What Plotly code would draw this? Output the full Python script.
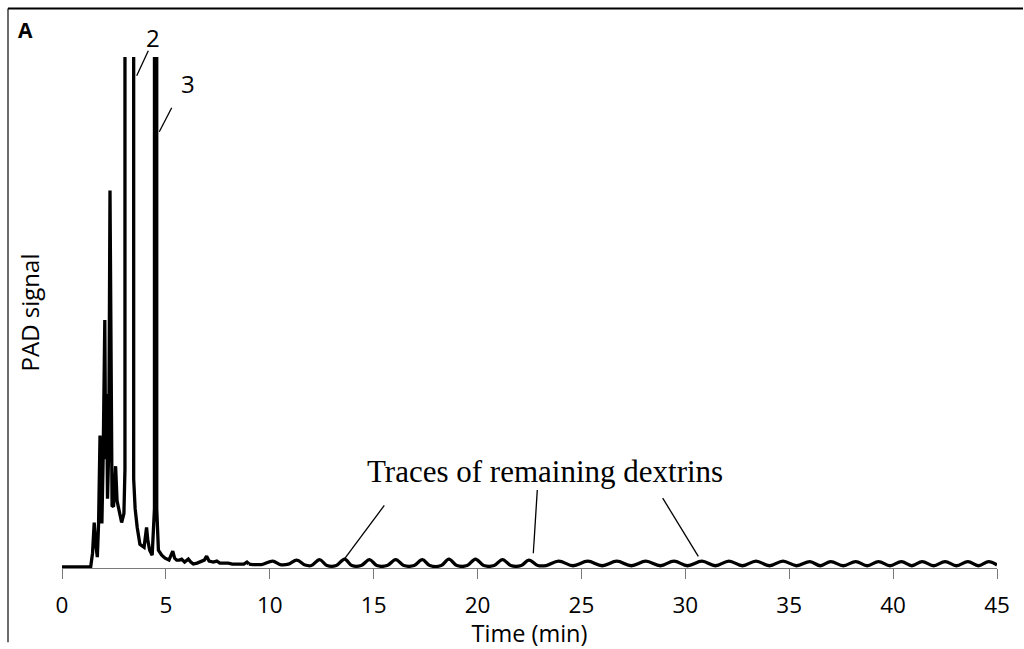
import plotly.graph_objects as go

# ---- data (time in min, signal in arbitrary units) ----
t_early = [0.0, 1.38, 1.47, 1.55, 1.62, 1.70, 1.76, 1.83, 1.87, 1.92, 1.98, 2.06, 2.10, 2.15, 2.19,
           2.25, 2.31, 2.36, 2.41, 2.48, 2.58, 2.65, 2.72, 2.80, 2.87, 2.98, 3.03, 3.06, 3.42, 3.45,
           3.52, 3.62, 3.75, 3.95, 4.02, 4.07, 4.13, 4.22, 4.34, 4.45, 4.48, 4.52, 4.56, 4.64, 4.80,
           4.96, 5.15, 5.25, 5.33, 5.42, 5.52, 5.65, 5.76, 5.90, 6.08, 6.20, 6.32, 6.50, 6.70, 6.85,
           6.96, 7.08, 7.28, 7.45, 7.60, 7.80, 8.00, 8.20, 8.50, 8.75, 8.90, 9.00]
s_early = [1, 1, 15, 46, 25, 11, 45, 134, 70, 45, 110, 251, 110, 176, 70,
           120, 382, 130, 63, 62, 103, 68, 60, 52, 46, 55, 100, 30000, 30000, 90,
           60, 41, 24, 21, 32, 41, 28, 18, 13, 60, 30000, 30000, 60, 18, 13,
           10, 8, 12, 17, 10, 8, 8, 9, 6, 9, 6, 4, 5, 7, 8,
           12, 7, 6, 7, 5, 5, 5, 4, 4, 4, 6, 4]

t_tail = [9.0, 9.6, 10.14, 10.5, 10.9, 11.3, 11.7, 12.0, 12.4, 12.75, 13.2, 13.6, 13.95, 14.4, 14.8,
          15.15, 15.65, 16.06, 16.45, 16.95, 17.34, 17.7, 18.25, 18.62, 19.0, 19.5, 19.9, 20.3, 20.8,
          21.2, 21.6, 22.1, 22.47, 22.9, 23.3, 23.9, 24.6, 25.3, 26.0, 26.7, 27.4, 28.1, 28.8, 29.45,
          30.1, 30.8, 31.45, 32.1, 32.75, 33.4, 34.05, 34.7, 35.35, 36.0, 36.5, 37.0, 37.6, 38.2,
          38.75, 39.3, 39.85, 40.4, 40.9, 41.4, 41.95, 42.5, 43.05, 43.6, 44.1, 44.6, 45.0]
s_tail = [4, 3.5, 7, 3.5, 4, 8, 3, 2.5, 8.5, 2.5, 2.5, 9, 2.5, 2.5, 8.5,
          2.5, 2.5, 8.5, 2.5, 2.5, 8.5, 2.5, 2.5, 9, 2.5, 2.5, 9, 2.5, 2.5,
          8.5, 2.5, 2.5, 8, 2.5, 2.5, 7, 2.3, 7, 2.3, 7, 2.3, 7, 2.3, 7,
          2.3, 7, 2.3, 7, 2.3, 7, 2.3, 7, 2.3, 6.5, 2.3, 6.5, 2.3, 6.5,
          2.3, 6.5, 2.3, 6.5, 2.3, 6.5, 2.3, 6.5, 2.3, 6.5, 2.3, 6.5, 3]

tick_vals = [0, 5, 10, 15, 20, 25, 30, 35, 40, 45]
tick_text = ["0", "5", "10", "15", "20", "25", "30", "35", "40", "45"]

X_RANGE = [0, 45]
Y_RANGE = [0, 517]

# plot-area geometry (pixels) used only for placing decorations
W, H = 1024, 649
ML, MR, MT, MB = 62, 27, 57, 75
PW, PH = W - ML - MR, H - MT - MB


def px(xp):
    return (xp - ML) / PW


def py(yp):
    return (H - MB - yp) / PH


fig = go.Figure()
fig.add_trace(go.Scatter(x=t_early, y=s_early, mode="lines",
                         line=dict(color="black", width=3.3, shape="linear"),
                         showlegend=False, hoverinfo="skip"))
fig.add_trace(go.Scatter(x=t_tail, y=s_tail, mode="lines",
                         line=dict(color="black", width=3.3, shape="spline", smoothing=1),
                         showlegend=False, hoverinfo="skip"))

font_sans = "Open Sans, Lato, sans-serif"

shapes = []
# figure frame (left and top borders)
shapes.append(dict(type="line", xref="paper", yref="paper", x0=px(8), y0=py(8), x1=px(8), y1=py(649),
                   line=dict(color="#3a3a3a", width=1.5)))
shapes.append(dict(type="line", xref="paper", yref="paper", x0=px(8), y0=py(8), x1=px(1023), y1=py(8),
                   line=dict(color="black", width=2)))
# leader lines
leaders = [((148.3, 50.7), (136.7, 76.0)),
           ((171.7, 108.3), (159.3, 132.7)),
           ((384.3, 510.7), (344.3, 565.0)),
           ((537.3, 495.0), (533.3, 559.0)),
           ((662.7, 503.3), (698.3, 562.3))]
for (a, b) in leaders:
    shapes.append(dict(type="line", xref="paper", yref="paper",
                       x0=px(a[0]), y0=py(a[1]), x1=px(b[0]), y1=py(b[1]),
                       line=dict(color="black", width=1.3)))

annotations = [
    dict(text="<b>A</b>", x=px(25.5), y=py(29.5), xref="paper", yref="paper", showarrow=False,
         font=dict(family=font_sans, size=21, color="black"), xanchor="center", yanchor="middle"),
    dict(text="2", x=px(153), y=py(37), xref="paper", yref="paper", showarrow=False,
         font=dict(family=font_sans, size=24, color="black"), xanchor="center", yanchor="middle"),
    dict(text="3", x=px(187.5), y=py(84), xref="paper", yref="paper", showarrow=False,
         font=dict(family=font_sans, size=24, color="black"), xanchor="center", yanchor="middle"),
    dict(text="Traces of remaining dextrins", x=px(545), y=py(476), xref="paper", yref="paper",
         showarrow=False, font=dict(family="Liberation Serif, Times New Roman, serif", size=31, color="black"),
         xanchor="center", yanchor="middle"),
]

fig.update_layout(
    width=W, height=H,
    margin=dict(l=ML, r=MR, t=MT, b=MB, pad=0),
    paper_bgcolor="white", plot_bgcolor="white",
    shapes=shapes, annotations=annotations,
    xaxis=dict(range=X_RANGE, tickvals=tick_vals, ticktext=tick_text, ticks="outside", ticklen=10,
               tickwidth=1.3, tickcolor="#7a7a7a", showline=True, linecolor="#7a7a7a", linewidth=1.3,
               showgrid=False, zeroline=False, ticklabelstandoff=7,
               tickfont=dict(family=font_sans, size=22.5, color="black"),
               title=dict(text="Time (min)", font=dict(family=font_sans, size=23.5, color="black"), standoff=0)),
    yaxis=dict(range=Y_RANGE, showticklabels=False, ticks="", showgrid=False, zeroline=False, showline=False,
               title=dict(text="PAD signal", font=dict(family=font_sans, size=24, color="black"), standoff=14)),
)

fig.write_html("out.html")
